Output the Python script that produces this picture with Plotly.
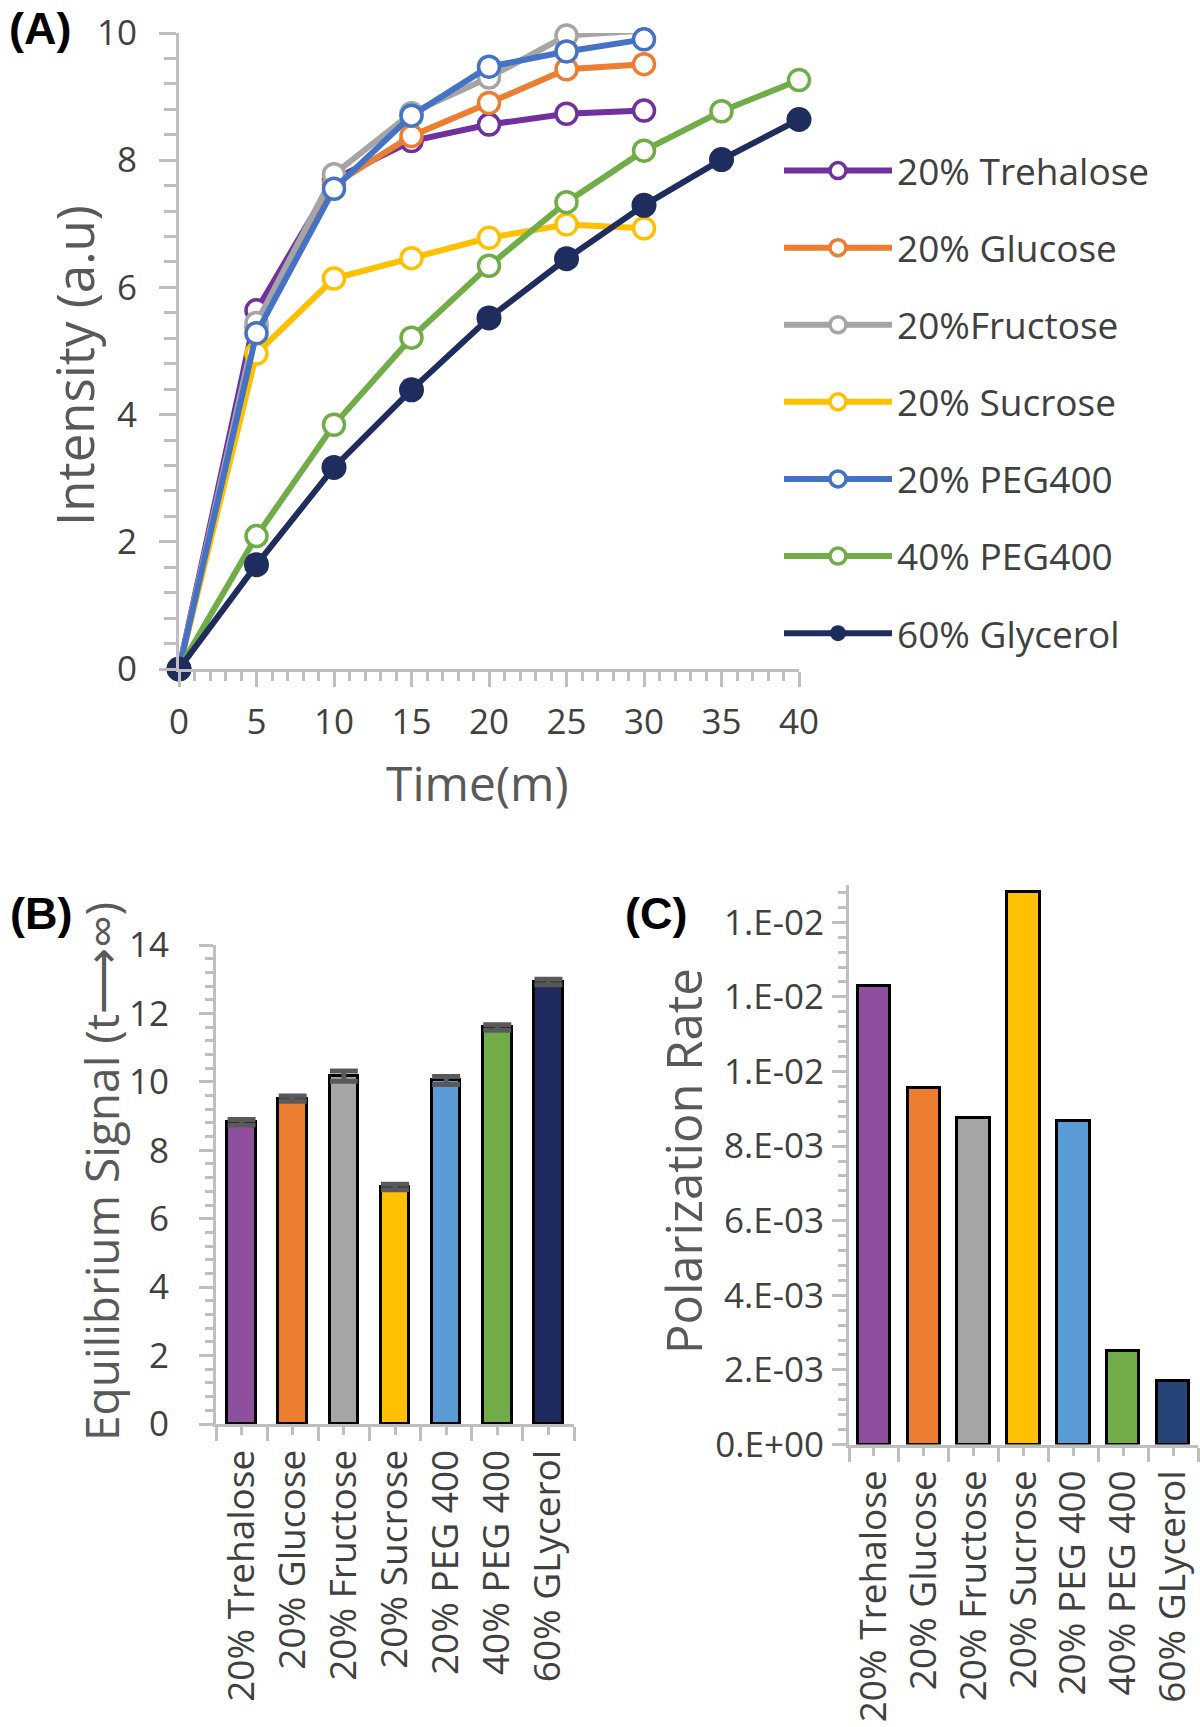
import plotly.graph_objects as go

# ---------------- Panel A data ----------------
time_short = [0, 5, 10, 15, 20, 25, 30]
time_long = [0, 5, 10, 15, 20, 25, 30, 35, 40]
trehalose = [0, 5.64, 7.70, 8.30, 8.56, 8.73, 8.78]
glucose = [0, 5.38, 7.62, 8.38, 8.90, 9.43, 9.51]
fructose = [0, 5.44, 7.78, 8.74, 9.30, 9.96, 10.04]
sucrose = [0, 4.96, 6.14, 6.46, 6.78, 6.99, 6.93]
peg400_20 = [0, 5.28, 7.55, 8.70, 9.47, 9.71, 9.90]
peg400_40 = [0, 2.09, 3.84, 5.21, 6.34, 7.34, 8.15, 8.77, 9.26]
glycerol_60 = [0, 1.64, 3.17, 4.39, 5.52, 6.45, 7.29, 8.01, 8.64]

series_names = ["20% Trehalose", "20% Glucose", "20%Fructose", "20% Sucrose",
                "20% PEG400", "40% PEG400", "60% Glycerol"]
line_colors = ["#7030A0", "#ED7D31", "#A5A5A5", "#FFC000", "#4472C4", "#70AD47", "#1F2D5E"]

# ---------------- Panels B / C data ----------------
categories = ["20% Trehalose", "20% Glucose", "20% Fructose", "20% Sucrose",
              "20% PEG 400", "40% PEG 400", "60% GLycerol"]
equilibrium = [8.82, 9.51, 10.17, 6.93, 10.04, 11.59, 12.92]
equilibrium_err = [0.08, 0.08, 0.15, 0.08, 0.12, 0.08, 0.08]
polarization = [0.01230, 0.00956, 0.00876, 0.01481, 0.00867, 0.00252, 0.00170]
bar_colors_b = ["#8E4F9E", "#ED7D31", "#A5A5A5", "#FFC000", "#5B9BD5", "#70AD47", "#1F2A5C"]
bar_colors_c = ["#8E4F9E", "#ED7D31", "#A5A5A5", "#FFC000", "#5B9BD5", "#70AD47", "#264478"]
c_tickvals = [0, 0.002, 0.004, 0.006, 0.008, 0.010, 0.012, 0.014]
c_ticktext = ["0.E+00", "2.E-03", "4.E-03", "6.E-03", "8.E-03", "1.E-02", "1.E-02", "1.E-02"]

W, H = 1200, 1727
FONT = "Open Sans"
TICK_COLOR = "#404040"
TITLE_COLOR = "#595959"
AXIS_COLOR = "#BFBFBF"


def px_x(p):
    return p / W


def px_y(p):
    return 1 - p / H


fig = go.Figure()

# Panel A lines
a_x = [time_short] * 5 + [time_long] * 2
a_y = [trehalose, glucose, fructose, sucrose, peg400_20, peg400_40, glycerol_60]
for i, (name, xs, ys, col) in enumerate(zip(series_names, a_x, a_y, line_colors)):
    filled = (i == len(series_names) - 1)
    fig.add_trace(go.Scatter(
        x=xs, y=ys, name=name, mode="lines+markers",
        line=dict(color=col, width=6),
        marker=dict(symbol="circle", size=25 if filled else 21,
                    color=col if filled else "white",
                    line=dict(color=col, width=0 if filled else 3.5)),
        cliponaxis=False, legendgroup=name, showlegend=True,
        xaxis="x", yaxis="y",
    ))

# Panel B bars
fig.add_trace(go.Bar(
    x=list(range(len(categories))), y=equilibrium, width=0.56,
    marker=dict(color=bar_colors_b, line=dict(color="black", width=3)),
    error_y=dict(type="data", array=equilibrium_err, color="#595959",
                 thickness=5, width=14),
    showlegend=False, xaxis="x2", yaxis="y2",
))

# Panel C bars
fig.add_trace(go.Bar(
    x=list(range(len(categories))), y=polarization, width=0.65,
    marker=dict(color=bar_colors_c, line=dict(color="black", width=3)),
    showlegend=False, xaxis="x3", yaxis="y3",
))

common_axis = dict(
    showline=True, linecolor=AXIS_COLOR, linewidth=3, showgrid=False, zeroline=False,
    ticks="outside", tickcolor=AXIS_COLOR, tickwidth=3, automargin=False,
    tickfont=dict(family=FONT, size=35, color=TICK_COLOR),
)

fig.update_layout(
    width=W, height=H,
    margin=dict(l=0, r=0, t=0, b=0, autoexpand=False),
    paper_bgcolor="white", plot_bgcolor="white",
    font=dict(family=FONT, color=TICK_COLOR),
    bargap=0,
    xaxis=dict(common_axis, domain=[px_x(179), px_x(799)], range=[0, 40],
               tickvals=[0, 5, 10, 15, 20, 25, 30, 35, 40], ticklen=15,
               ticklabelstandoff=5,
               minor=dict(dtick=1, tick0=0, ticks="outside", ticklen=9,
                          tickcolor=AXIS_COLOR, tickwidth=3),
               anchor="y"),
    yaxis=dict(common_axis, domain=[px_y(669), px_y(33)], range=[0, 10],
               dtick=2, ticklen=17, ticklabelstandoff=15,
               minor=dict(dtick=0.4, tick0=0, ticks="outside", ticklen=12,
                          tickcolor=AXIS_COLOR, tickwidth=3),
               anchor="x"),
    xaxis2=dict(common_axis, domain=[px_x(216), px_x(574)], range=[-0.5, 6.5],
                tickmode="array", tickvals=list(range(len(categories))), ticktext=categories,
                tickangle=-90, ticklen=8, ticklabelstandoff=0,
                tickfont=dict(family=FONT, size=37, color=TICK_COLOR),
                minor=dict(tickmode="array", tickvals=[k - 0.5 for k in range(8)],
                           ticks="outside", ticklen=14, tickcolor=AXIS_COLOR, tickwidth=3),
                anchor="y2"),
    yaxis2=dict(common_axis, domain=[px_y(1424), px_y(945)], range=[0, 14],
                dtick=2, ticklen=14, ticklabelstandoff=23,
                minor=dict(dtick=0.4, tick0=0, ticks="outside", ticklen=8,
                           tickcolor=AXIS_COLOR, tickwidth=3),
                anchor="x2"),
    xaxis3=dict(common_axis, domain=[px_x(849), px_x(1198)], range=[-0.5, 6.5],
                tickmode="array", tickvals=list(range(len(categories))), ticktext=categories,
                tickangle=-90, ticklen=8, ticklabelstandoff=0,
                tickfont=dict(family=FONT, size=37, color=TICK_COLOR),
                minor=dict(tickmode="array", tickvals=[k - 0.5 for k in range(8)],
                           ticks="outside", ticklen=14, tickcolor=AXIS_COLOR, tickwidth=3),
                anchor="y3"),
    yaxis3=dict(common_axis, domain=[px_y(1444.5), px_y(885)], range=[0, 0.015],
                tickmode="array", tickvals=c_tickvals, ticktext=c_ticktext,
                ticklen=14, ticklabelstandoff=1,
                minor=dict(tickmode="linear", dtick=0.0004, tick0=0, ticks="outside", ticklen=8,
                           tickcolor=AXIS_COLOR, tickwidth=3),
                anchor="x3"),
    legend=dict(x=px_x(779), y=px_y(140), xanchor="left", yanchor="top",
                font=dict(family=FONT, size=37, color=TICK_COLOR),
                itemwidth=108, tracegroupgap=26, bgcolor="rgba(0,0,0,0)",
                traceorder="grouped"),
)

annotations = [
    dict(text="Intensity (a.u)", x=px_x(74), y=px_y(366), textangle=-90,
         font=dict(family=FONT, size=51, color=TITLE_COLOR)),
    dict(text="Time(m)", x=px_x(477), y=px_y(782),
         font=dict(family=FONT, size=48, color=TITLE_COLOR)),
    dict(text="Equilibrium Signal (t⟶∞)", x=px_x(101), y=px_y(1172), textangle=-90,
         font=dict(family=FONT, size=46, color=TITLE_COLOR)),
    dict(text="Polarization Rate", x=px_x(683), y=px_y(1161), textangle=-90,
         font=dict(family=FONT, size=49, color=TITLE_COLOR)),
    dict(text="<b>(A)</b>", x=px_x(40), y=px_y(29),
         font=dict(family="Liberation Sans", size=45, color="black")),
    dict(text="<b>(B)</b>", x=px_x(41), y=px_y(913),
         font=dict(family="Liberation Sans", size=45, color="black")),
    dict(text="<b>(C)</b>", x=px_x(656), y=px_y(913),
         font=dict(family="Liberation Sans", size=45, color="black")),
]
for a in annotations:
    a.update(xref="paper", yref="paper", showarrow=False, xanchor="center", yanchor="middle")
fig.update_layout(annotations=annotations)

fig.write_html("out.html", config={"displayModeBar": False},
               post_script="document.body.style.margin='0';")
